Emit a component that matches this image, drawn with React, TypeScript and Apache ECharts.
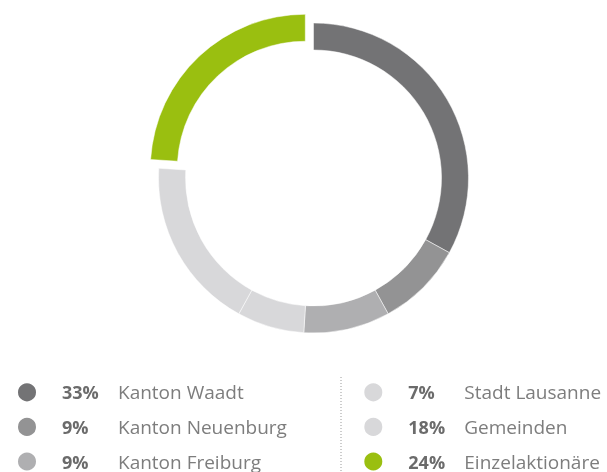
import React, { useEffect, useRef } from "react";
import * as echarts from "echarts";

const names = ["Kanton Waadt", "Kanton Neuenburg", "Kanton Freiburg", "Stadt Lausanne", "Gemeinden", "Einzelaktionäre"];
const values = [33, 9, 9, 7, 18, 24];
const colors = ["#737375", "#939394", "#afafb1", "#d8d8da", "#d8d8da", "#9abf10"];
const leftNames = names.slice(0, 3);
const rightNames = names.slice(3);

export default function App() {
  const ref = useRef<HTMLDivElement>(null);
  useEffect(() => {
    const chart = echarts.init(ref.current!, null, { renderer: "svg" });
    const pct: Record<string, number> = {};
    names.forEach((n, i) => (pct[n] = values[i]));
    const fmt = (n: string) => `{p|${pct[n]}%}{n|${n}}`;
    const rich = {
      p: { fontFamily: "Open Sans", fontWeight: "bold", fontSize: 18, color: "#6b6b6b", width: 56, padding: [0, 0, 0, 20], lineHeight: 20 },
      n: { fontFamily: "Open Sans", fontSize: 19, color: "#7d7d7d", lineHeight: 20 },
    };
    const legendBase = {
      orient: "vertical",
      icon: "circle",
      itemWidth: 20,
      itemHeight: 20,
      itemGap: 12.6,
      padding: 0,
      height: 120,
      selectedMode: false,
      formatter: fmt,
      textStyle: { rich, lineHeight: 20 },
    };
    chart.setOption({
      animation: false,
      legend: [
        { ...legendBase, left: 16, top: 381.3, data: leftNames },
        { ...legendBase, left: 362.3, top: 381.3, data: rightNames },
      ],
      graphic: [
        {
          type: "line",
          shape: { x1: 341, y1: 377, x2: 341, y2: 472 },
          style: { stroke: "#9a9a9a", lineWidth: 1, lineDash: [1, 2] },
        },
      ],
      series: [
        {
          type: "pie",
          center: [313.5, 178],
          radius: [128, 155],
          startAngle: 90,
          clockwise: true,
          selectedMode: "single",
          selectedOffset: 12,
          label: { show: false },
          labelLine: { show: false },
          emphasis: { disabled: true },
          itemStyle: { borderColor: "#fff", borderWidth: 0.5 },
          data: names.map((n, i) => ({
            name: n,
            value: values[i],
            selected: i === names.length - 1,
            itemStyle: { color: colors[i] },
          })),
        },
      ],
    });
    return () => chart.dispose();
  }, []);
  return <div ref={ref} style={{ position: "fixed", left: 0, top: 0, width: 607, height: 472 }} />;
}
